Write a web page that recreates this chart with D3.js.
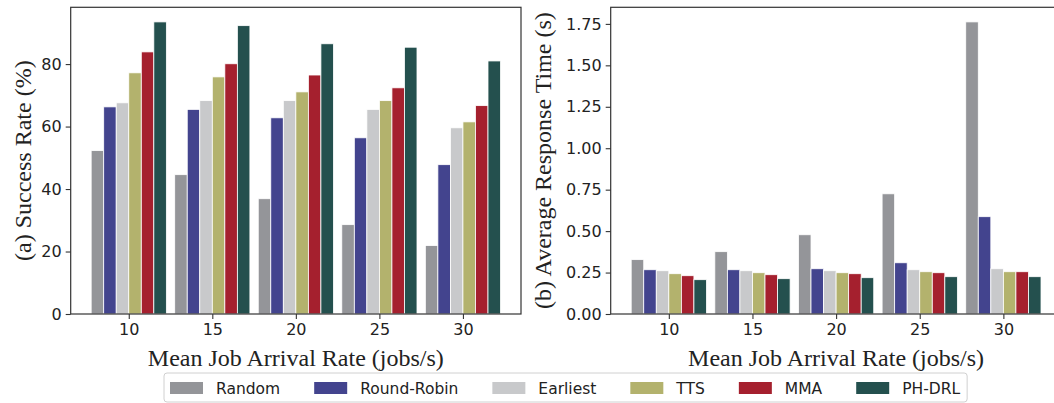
<!DOCTYPE html>
<html>
<head>
<meta charset="utf-8">
<script src="https://cdn.jsdelivr.net/npm/d3@7"></script>
<style>
  html, body { margin: 0; padding: 0; background: #fff; }
  svg { display: block; }
  .tick text { font-family: "DejaVu Sans", sans-serif; font-size: 16px; fill: #222; }
  .axis-title { font-family: "Liberation Serif", "Times New Roman", serif; font-size: 24px; fill: #222; }
  .legend-text { font-family: "DejaVu Sans", sans-serif; font-size: 15.5px; fill: #222; }
</style>
</head>
<body>
<svg id="chart" width="1054" height="403"></svg>
<script>
// Arrival rates (jobs/s) on the x axis
const rates = ["10", "15", "20", "25", "30"];
const methods = ["Random", "Round-Robin", "Earliest", "TTS", "MMA", "PH-DRL"];
const colors = ["#949599", "#43448e", "#c8c9cb", "#b3b26d", "#a5202e", "#24504e"];

// Success rate (%) per method, one value per arrival rate
const successRandom = [52.3, 44.6, 36.9, 28.6, 21.9];
const successRoundRobin = [66.3, 65.5, 62.8, 56.4, 47.8];
const successEarliest = [67.6, 68.3, 68.3, 65.5, 59.6];
const successTTS = [77.2, 75.9, 71.1, 68.3, 61.5];
const successMMA = [83.9, 80.1, 76.5, 72.4, 66.7];
const successPHDRL = [93.5, 92.3, 86.5, 85.4, 81.0];

// Average response time (s) per method
const respRandom = [0.328, 0.376, 0.478, 0.725, 1.762];
const respRoundRobin = [0.267, 0.267, 0.273, 0.309, 0.587];
const respEarliest = [0.261, 0.261, 0.261, 0.267, 0.273];
const respTTS = [0.243, 0.249, 0.249, 0.255, 0.255];
const respMMA = [0.231, 0.237, 0.243, 0.249, 0.255];
const respPHDRL = [0.207, 0.213, 0.219, 0.225, 0.225];

const successTicks = [0, 20, 40, 60, 80];
const respTicks = [0, 0.25, 0.5, 0.75, 1.0, 1.25, 1.5, 1.75];

const successSeries = [successRandom, successRoundRobin, successEarliest, successTTS, successMMA, successPHDRL];
const respSeries = [respRandom, respRoundRobin, respEarliest, respTTS, respMMA, respPHDRL];

const svg = d3.select("#chart");
const barW = 0.15;
const plotTop = 7.3, plotBottom = 314;

function panel(opts) {
  const { left, right, series, yTicks, yFmt, yTitle, titleX } = opts;
  const maxV = d3.max(series.flat());
  const x = d3.scaleLinear().domain([-0.695, 4.695]).range([left, right]);
  const y = d3.scaleLinear().domain([0, maxV * 1.05]).range([plotBottom, plotTop]);
  const g = svg.append("g");

  // bars
  series.forEach((vals, si) => {
    g.selectAll(null).data(vals).enter().append("rect")
      .attr("x", (d, i) => x(i + (si - 2.5) * barW - barW / 2))
      .attr("width", x(barW) - x(0))
      .attr("y", d => y(d))
      .attr("height", d => y(0) - y(d))
      .attr("fill", colors[si])
      .attr("stroke", "#fff")
      .attr("stroke-width", 0.8);
  });

  // frame
  g.append("rect")
    .attr("x", left).attr("y", plotTop)
    .attr("width", right - left).attr("height", plotBottom - plotTop)
    .attr("fill", "none").attr("stroke", "#333").attr("stroke-width", 1.2);

  const xAxis = d3.axisBottom(x).tickValues(d3.range(rates.length))
    .tickFormat(i => rates[i]).tickSizeOuter(0).tickSize(5).tickPadding(5);
  const gx = g.append("g").attr("transform", `translate(0,${plotBottom})`).call(xAxis);
  gx.select(".domain").remove();
  gx.selectAll(".tick line").attr("stroke", "#333").attr("stroke-width", 1.1);

  const yAxis = d3.axisLeft(y).tickValues(yTicks).tickFormat(yFmt)
    .tickSizeOuter(0).tickSize(5).tickPadding(4);
  const gy = g.append("g").attr("transform", `translate(${left},0)`).call(yAxis);
  gy.select(".domain").remove();
  gy.selectAll(".tick line").attr("stroke", "#333").attr("stroke-width", 1.1);

  g.append("text").attr("class", "axis-title")
    .attr("x", (left + right) / 2).attr("y", 366)
    .attr("text-anchor", "middle")
    .text("Mean Job Arrival Rate (jobs/s)");

  g.append("text").attr("class", "axis-title")
    .attr("transform", `translate(${titleX},${(plotTop + plotBottom) / 2}) rotate(-90)`)
    .attr("text-anchor", "middle")
    .text(yTitle);
}

panel({
  left: 70.7, right: 521, series: successSeries, yTicks: successTicks,
  yFmt: d3.format("d"), yTitle: "(a) Success Rate (%)", titleX: 31
});
panel({
  left: 610.7, right: 1061.5, series: respSeries, yTicks: respTicks,
  yFmt: d3.format(".2f"), yTitle: "(b) Average Response Time (s)", titleX: 551
});

// legend
const leg = svg.append("g");
const legBox = leg.append("rect")
  .attr("y", 373).attr("height", 29).attr("rx", 3)
  .attr("fill", "#fff").attr("stroke", "#d0d0d0").attr("stroke-width", 1);
let cx = 170;
methods.forEach((m, i) => {
  leg.append("rect").attr("x", cx).attr("y", 382).attr("width", 33).attr("height", 12)
    .attr("fill", colors[i]);
  const t = leg.append("text").attr("class", "legend-text")
    .attr("x", cx + 46).attr("y", 394).text(m);
  const w = t.node().getComputedTextLength();
  cx = cx + 46 + w + (i < methods.length - 1 ? 34 : 0);
});
legBox.attr("x", 164).attr("width", cx + 7 - 164);
</script>
</body>
</html>
